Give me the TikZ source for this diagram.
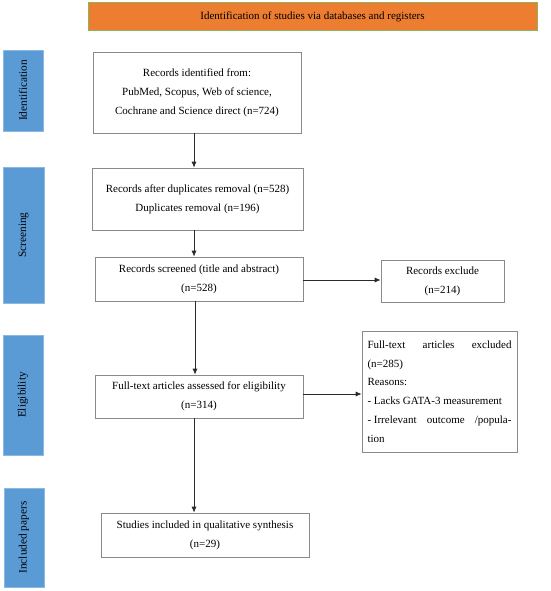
\documentclass[tikz,border=0pt]{standalone}
\usepackage{fontspec}
\setmainfont{Liberation Serif}
\usetikzlibrary{arrows.meta,calc}
\definecolor{sideblue}{HTML}{5B9BD5}
\definecolor{headorange}{HTML}{ED7D31}
\definecolor{headgreen}{HTML}{8DB45A}
\definecolor{boxedge}{HTML}{8A8A8A}
\definecolor{arrowcol}{HTML}{2A2A2A}
\tikzset{
  txt/.style={font=\fontsize{11}{19}\selectfont},
  flowbox/.style={draw=boxedge, line width=0.6pt, fill=white, align=center, inner sep=2pt, txt},
  sidebox/.style={fill=sideblue, draw=sideblue!70!white, line width=0.8pt, inner sep=0pt},
  sidelabel/.style={rotate=90, font=\fontsize{11.3}{12}\selectfont, text=black},
  flowarrow/.style={draw=arrowcol, line width=0.8pt, -{Latex[length=6pt,width=5pt]}}
}
\begin{document}
\begin{tikzpicture}[x=1pt,y=-1pt]
\useasboundingbox (0,0) rectangle (550,591);
% header
\node[fill=headorange, draw=headgreen, line width=1pt, minimum width=449pt, minimum height=28pt, inner sep=0pt, txt] (head) at (312.5,16.5) {Identification of studies via databases and registers};
% side labels
\node[sidebox, minimum width=40pt, minimum height=81pt] (s1) at (23,90.5) {};
\node[sidelabel] (s1t) at (s1.center) {Identification};
\node[sidebox, minimum width=41pt, minimum height=136pt] (s2) at (23.5,235) {};
\node[sidelabel] (s2t) at (s2.center) {Screening};
\node[sidebox, minimum width=40pt, minimum height=120pt] (s3) at (23,395) {};
\node[sidelabel] (s3t) at (s3.center) {Eligibility};
\node[sidebox, minimum width=40pt, minimum height=99pt] (s4) at (24,537.5) {};
\node[sidelabel] (s4t) at (s4.center) {Included papers};
% flow boxes
\node[flowbox, minimum width=208pt, minimum height=81pt] (b1) at (197,92.5) {Records identified from:\\PubMed, Scopus, Web of science,\\Cochrane and Science direct (n=724)};
\node[flowbox, minimum width=211pt, minimum height=62pt] (b2) at (197.5,199) {Records after duplicates removal (n=528)\\Duplicates removal (n=196)};
\node[flowbox, minimum width=208pt, minimum height=44pt] (b3) at (199,279) {Records screened (title and abstract)\\(n=528)};
\node[flowbox, minimum width=123pt, minimum height=42pt] (ex1) at (442.5,281) {Records exclude\\(n=214)};
\node[flowbox, minimum width=208pt, minimum height=43pt] (b4) at (199,396.5) {Full-text articles assessed for eligibility\\(n=314)};
\node[flowbox, minimum width=155pt, minimum height=121pt, align=left, inner sep=0pt] (ex2) at (439.5,391.5) {\parbox{144pt}{\fontsize{11}{18.7}\selectfont
Full-text\hfill articles\hfill excluded\\
(n=285)\\
Reasons:\\
- Lacks GATA-3 measurement\\
- Irrelevant\hfill outcome\hfill /popula-\\
tion}};
\node[flowbox, minimum width=208pt, minimum height=44pt] (b5) at (205,535) {Studies included in qualitative synthesis\\(n=29)};
% arrows
\draw[flowarrow] ($(b1.south)+(-3,0)$) -- ($(b2.north)+(-3.5,0)$);
\draw[flowarrow] ($(b2.south)+(-3.5,0)$) -- ($(b3.north)+(-5,0)$);
\draw[flowarrow] ($(b3.south)+(-4,0)$) -- ($(b4.north)+(-4,0)$);
\draw[flowarrow] ($(b4.south)+(-5,0)$) coordinate (c4) -- (c4 |- b5.north);
\draw[flowarrow] (b3.east |- 0,280) -- (ex1.west |- 0,280);
\draw[flowarrow] (b4.east |- 0,394) -- (ex2.west |- 0,394);
\end{tikzpicture}
\end{document}
